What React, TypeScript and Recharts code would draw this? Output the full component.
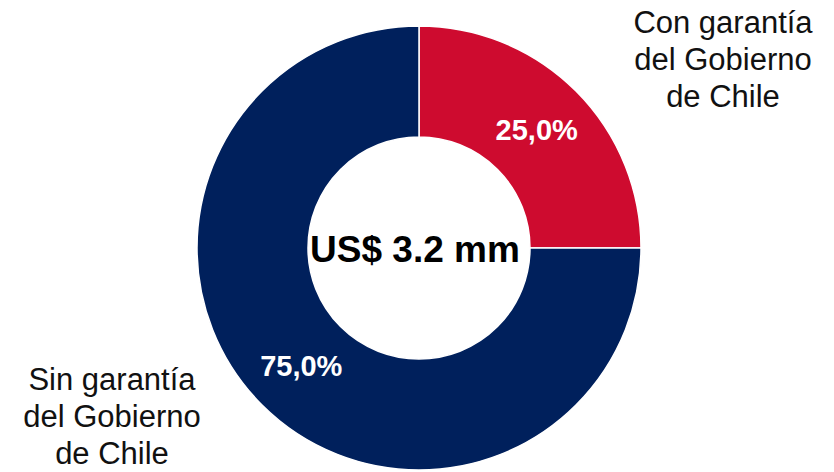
import { PieChart, Pie, Cell } from 'recharts'

document.body.style.margin = '0'

const categories = ['Con garantía del Gobierno de Chile', 'Sin garantía del Gobierno de Chile']
const shares = [25.0, 75.0]
const colors = ['#CE0B2F', '#00205C']
const nameLines = [
  ['Con garantía', 'del Gobierno', 'de Chile'],
  ['Sin garantía', 'del Gobierno', 'de Chile'],
]
const centerText = 'US$ 3.2 mm'

const data = categories.map((name, i) => ({ name, value: shares[i] }))

const RAD = Math.PI / 180
const font = '"Liberation Sans", Arial, sans-serif'

function SliceLabel(props: any) {
  const { cx, cy, midAngle, innerRadius, outerRadius, value, index } = props
  const r = (innerRadius + outerRadius) / 2
  const x = cx + r * Math.cos(-midAngle * RAD)
  const y = cy + r * Math.sin(-midAngle * RAD)
  const right = Math.cos(-midAngle * RAD) > 0
  const nx = right ? cx + 304 : cx - 307
  const ny = right ? cy - 215 : cy + 142
  return (
    <g>
      <text
        x={x}
        y={y}
        fill="#fff"
        fontSize={29}
        fontWeight="bold"
        fontFamily={font}
        textAnchor="middle"
        dominantBaseline="central"
      >
        {value.toFixed(1).replace('.', ',')}%
      </text>
      <text x={nx} y={ny} fill="#111" fontSize={31} fontFamily={font} textAnchor="middle">
        {nameLines[index].map((line, i) => (
          <tspan key={i} x={nx} dy={i === 0 ? 0 : 37}>
            {line}
          </tspan>
        ))}
      </text>
    </g>
  )
}

export default function App() {
  return (
    <div style={{ width: 834, height: 472, background: '#fff' }}>
      <PieChart width={834} height={472} margin={{ top: 0, right: 0, bottom: 0, left: 0 }}>
        <Pie
          data={data}
          dataKey="value"
          cx={419}
          cy={248}
          innerRadius={111}
          outerRadius={222}
          startAngle={90}
          endAngle={-270}
          stroke="#fff"
          strokeWidth={1.5}
          label={SliceLabel}
          labelLine={false}
          isAnimationActive={false}
        >
          {data.map((_, i) => (
            <Cell key={i} fill={colors[i]} />
          ))}
        </Pie>
        <text
          x={415}
          y={262}
          fill="#000"
          fontSize={37}
          fontWeight="bold"
          fontFamily={font}
          textAnchor="middle"
        >
          {centerText}
        </text>
      </PieChart>
    </div>
  )
}
